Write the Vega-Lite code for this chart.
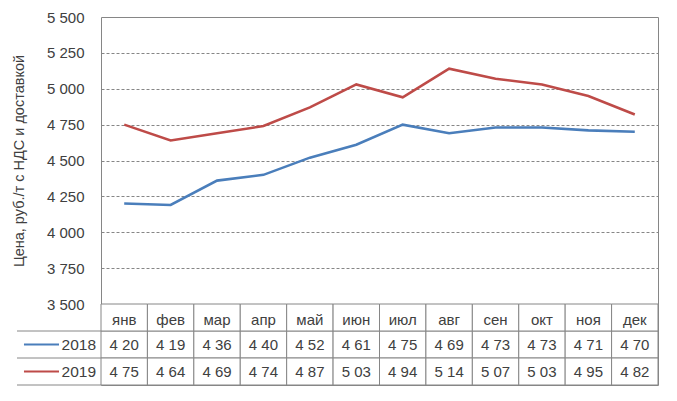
{
  "$schema": "https://vega.github.io/schema/vega-lite/v6.json",
  "padding": {"left": 10, "top": 9, "right": 0, "bottom": 0},
  "background": "white",
  "config": {
    "font": "Liberation Sans",
    "view": {"stroke": "#868686", "strokeWidth": 1}
  },
  "datasets": {
    "d": [
      {"month": "янв", "year": "2018", "value": 4200, "label": "4 20"},
      {"month": "фев", "year": "2018", "value": 4190, "label": "4 19"},
      {"month": "мар", "year": "2018", "value": 4360, "label": "4 36"},
      {"month": "апр", "year": "2018", "value": 4400, "label": "4 40"},
      {"month": "май", "year": "2018", "value": 4520, "label": "4 52"},
      {"month": "июн", "year": "2018", "value": 4610, "label": "4 61"},
      {"month": "июл", "year": "2018", "value": 4750, "label": "4 75"},
      {"month": "авг", "year": "2018", "value": 4690, "label": "4 69"},
      {"month": "сен", "year": "2018", "value": 4730, "label": "4 73"},
      {"month": "окт", "year": "2018", "value": 4730, "label": "4 73"},
      {"month": "ноя", "year": "2018", "value": 4710, "label": "4 71"},
      {"month": "дек", "year": "2018", "value": 4700, "label": "4 70"},
      {"month": "янв", "year": "2019", "value": 4750, "label": "4 75"},
      {"month": "фев", "year": "2019", "value": 4640, "label": "4 64"},
      {"month": "мар", "year": "2019", "value": 4690, "label": "4 69"},
      {"month": "апр", "year": "2019", "value": 4740, "label": "4 74"},
      {"month": "май", "year": "2019", "value": 4870, "label": "4 87"},
      {"month": "июн", "year": "2019", "value": 5030, "label": "5 03"},
      {"month": "июл", "year": "2019", "value": 4940, "label": "4 94"},
      {"month": "авг", "year": "2019", "value": 5140, "label": "5 14"},
      {"month": "сен", "year": "2019", "value": 5070, "label": "5 07"},
      {"month": "окт", "year": "2019", "value": 5030, "label": "5 03"},
      {"month": "ноя", "year": "2019", "value": 4950, "label": "4 95"},
      {"month": "дек", "year": "2019", "value": 4820, "label": "4 82"}
    ],
    "rows": [{"year": "2018"}, {"year": "2019"}]
  },
  "columns": 2,
  "spacing": 0,
  "bounds": "flush",
  "concat": [
    {
      "width": 84,
      "height": 287,
      "view": {"stroke": null},
      "data": {"values": [{"a": 1}]},
      "mark": {"type": "point", "opacity": 0}
    },
    {
      "width": 557,
      "height": 287,
      "data": {"name": "d"},
      "mark": {"type": "line", "strokeWidth": 2.6},
      "encoding": {
        "x": {"field": "month", "type": "ordinal", "sort": ["янв","фев","мар","апр","май","июн","июл","авг","сен","окт","ноя","дек"], "axis": null},
        "y": {
          "field": "value", "type": "quantitative",
          "scale": {"domain": [3500, 5500], "nice": false, "zero": false},
          "axis": {
            "values": [3500, 3750, 4000, 4250, 4500, 4750, 5000, 5250, 5500],
            "labelExpr": "replace(format(datum.value, ',d'), ',', ' ')",
            "labelFontSize": 15, "labelColor": "#404040", "labelPadding": 17,
            "ticks": false, "domain": false,
            "grid": true, "gridColor": "#868686", "gridDash": [3, 2], "gridWidth": 1,
            "gridOpacity": {"condition": {"test": "datum.value == 3500 || datum.value == 5500", "value": 0}, "value": 1},
            "title": "Цена, руб./т с НДС и доставкой",
            "titleFontSize": 14.5, "titleFontWeight": "normal", "titleColor": "#404040", "titlePadding": 20
          }
        },
        "color": {"field": "year", "type": "nominal", "scale": {"domain": ["2018", "2019"], "range": ["#4a7ebb", "#be4b48"]}, "legend": null}
      }
    },
    {
      "width": 84,
      "height": 81,
      "view": {"stroke": null},
      "data": {"name": "rows"},
      "layer": [
        {
          "mark": {"type": "rule", "color": "#868686", "strokeWidth": 1},
          "encoding": {
            "y": {"field": "year", "type": "ordinal", "bandPosition": 0, "scale": {"domain": ["hdr", "2018", "2019"], "paddingInner": 0, "paddingOuter": 0}, "axis": null},
            "x": {"datum": 0, "type": "quantitative", "scale": {"domain": [0, 1]}, "axis": null},
            "x2": {"datum": 1}
          }
        },
        {
          "transform": [{"filter": "datum.year == '2019'"}],
          "mark": {"type": "rule", "color": "#868686", "strokeWidth": 1},
          "encoding": {
            "y": {"field": "year", "type": "ordinal", "bandPosition": 1, "axis": null},
            "x": {"datum": 0, "type": "quantitative", "axis": null},
            "x2": {"datum": 1}
          }
        },
        {
          "mark": {"type": "rule", "strokeWidth": 2.2},
          "encoding": {
            "y": {"field": "year", "type": "ordinal", "axis": null},
            "x": {"datum": 0.083, "type": "quantitative", "axis": null},
            "x2": {"datum": 0.5},
            "color": {"field": "year", "type": "nominal", "scale": {"domain": ["2018", "2019"], "range": ["#4a7ebb", "#be4b48"]}, "legend": null}
          }
        },
        {
          "mark": {"type": "text", "align": "right", "baseline": "middle", "fontSize": 15.5, "color": "#404040", "dx": -5},
          "encoding": {
            "y": {"field": "year", "type": "ordinal", "axis": null},
            "x": {"datum": 1, "type": "quantitative", "axis": null},
            "text": {"field": "year"}
          }
        }
      ]
    },
    {
      "width": 557,
      "height": 81,
      "data": {"name": "d"},
      "encoding": {
        "x": {"field": "month", "type": "ordinal", "sort": ["янв","фев","мар","апр","май","июн","июл","авг","сен","окт","ноя","дек"], "scale": {"type": "band", "paddingInner": 0, "paddingOuter": 0}, "axis": null}
      },
      "layer": [
        {
          "mark": {"type": "rect", "fill": "white", "stroke": "#868686", "strokeWidth": 1},
          "encoding": {
            "y": {"field": "year", "type": "ordinal", "scale": {"domain": ["hdr", "2018", "2019"], "paddingInner": 0, "paddingOuter": 0}, "axis": null}
          }
        },
        {
          "transform": [{"filter": "datum.year == '2018'"}],
          "mark": {"type": "rect", "fill": "white", "stroke": "#868686", "strokeWidth": 1},
          "encoding": {
            "y": {"datum": "hdr", "type": "ordinal"}
          }
        },
        {
          "transform": [{"filter": "datum.year == '2018'"}],
          "mark": {"type": "text", "baseline": "middle", "fontSize": 15, "color": "#404040", "dy": 2},
          "encoding": {
            "y": {"datum": "hdr", "type": "ordinal"},
            "text": {"field": "month"}
          }
        },
        {
          "mark": {"type": "text", "baseline": "middle", "fontSize": 15, "color": "#404040"},
          "encoding": {
            "y": {"field": "year", "type": "ordinal"},
            "text": {"field": "label"}
          }
        }
      ]
    }
  ]
}
